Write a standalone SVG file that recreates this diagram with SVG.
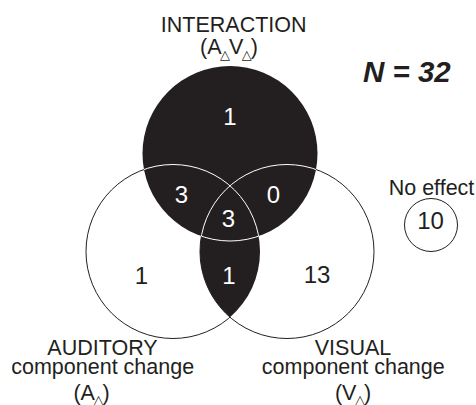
<svg xmlns="http://www.w3.org/2000/svg" width="476" height="405" viewBox="0 0 476 405">
<style>
.lbl{font-family:"Liberation Sans",Arial,sans-serif;font-size:21.5px;fill:#231f20;text-anchor:middle}
.num{font-family:"Liberation Sans",Arial,sans-serif;font-size:24px;text-anchor:middle}
.w{fill:#ffffff}
.k{fill:#231f20}
.sub{font-family:"DejaVu Sans",sans-serif;font-size:13px}
.outline{fill:#ffffff;stroke:#231f20;stroke-width:1}
.wline{fill:none;stroke:#ffffff;stroke-width:1}
</style>
<defs>
<clipPath id="clipTop"><circle cx="230" cy="153.5" r="87.5"/></clipPath>
<clipPath id="clipLens"><path d="M230,185.77 A87,87 0 0 1 230,317.23 A87,87 0 0 1 230,185.77 Z"/></clipPath>
</defs>
<rect width="476" height="405" fill="#ffffff"/>
<g id="auditory">
<circle class="outline" cx="173" cy="251.5" r="87"/>
</g>
<g id="visual">
<circle class="outline" cx="287" cy="251.5" r="87"/>
</g>
<g id="interaction">
<circle cx="230" cy="153.5" r="87.5" fill="#231f20"/>
<path d="M230,185.77 A87,87 0 0 1 230,317.23 A87,87 0 0 1 230,185.77 Z" fill="#231f20"/>
<g clip-path="url(#clipTop)">
<circle class="wline" cx="173" cy="251.5" r="87"/>
<circle class="wline" cx="287" cy="251.5" r="87"/>
</g>
<circle class="wline" cx="230" cy="153.5" r="87.5" clip-path="url(#clipLens)"/>
</g>
<g id="counts">
<text class="num w" x="230" y="125">1</text>
<text class="num w" x="181.5" y="203">3</text>
<text class="num w" x="273.5" y="203">0</text>
<text class="num w" x="228.5" y="227">3</text>
<text class="num w" x="229" y="284">1</text>
<text class="num k" x="141.5" y="284">1</text>
<text class="num k" x="317" y="283">13</text>
</g>
<g id="label-interaction">
<text class="lbl" x="233.7" y="31.7">INTERACTION</text>
<text class="lbl" x="229" y="53.5">(A<tspan class="sub" dx="-1.5" dy="5">△</tspan><tspan dx="-1" dy="-5">V</tspan><tspan class="sub" dx="-1.5" dy="5">△</tspan><tspan dx="-1" dy="-5">)</tspan></text>
</g>
<g id="label-auditory">
<text class="lbl" x="102.5" y="355">AUDITORY</text>
<text class="lbl" x="102.7" y="374">component change</text>
<text class="lbl" x="91.5" y="399.5">(A<tspan class="sub" dx="-1.5" dy="4">△</tspan><tspan dx="-1" dy="-4">)</tspan></text>
</g>
<g id="label-visual">
<text class="lbl" x="353" y="355">VISUAL</text>
<text class="lbl" x="353.3" y="374">component change</text>
<text class="lbl" x="353" y="399.5">(V<tspan class="sub" dx="-1.5" dy="4">△</tspan><tspan dx="-1" dy="-4">)</tspan></text>
</g>
<g id="no-effect">
<text class="lbl" x="431.5" y="195">No effect</text>
<circle cx="431" cy="225" r="26.5" fill="none" stroke="#231f20" stroke-width="1"/>
<text class="num k" x="430.5" y="229">10</text>
</g>
<g id="n-total">
<text x="363" y="82" font-family="Liberation Sans,Arial,sans-serif" font-size="29.5" font-weight="bold" font-style="italic" fill="#231f20">N = 32</text>
</g>
</svg>
